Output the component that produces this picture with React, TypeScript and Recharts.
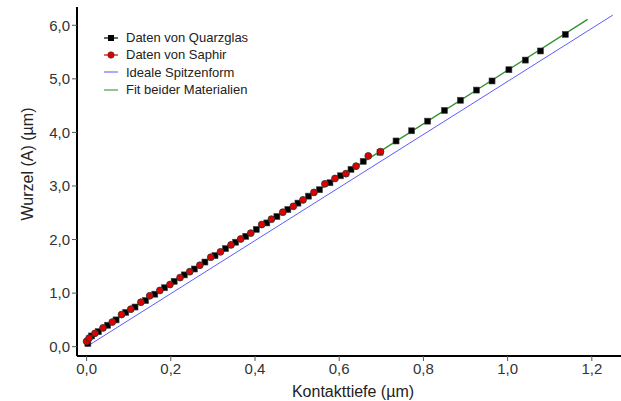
import React from 'react';
import { ComposedChart, Scatter, Line, XAxis, YAxis } from 'recharts';

// Daten von Quarzglas (Kontakttiefe in µm, Wurzel(A) in µm)
const quarzX = [0.003, 0.012, 0.028, 0.05, 0.07, 0.093, 0.115, 0.14, 0.162, 0.185, 0.208, 0.232, 0.256, 0.281, 0.305, 0.33, 0.354, 0.378, 0.403, 0.428, 0.452, 0.478, 0.502, 0.527, 0.553, 0.578, 0.603, 0.628, 0.657, 0.697, 0.735, 0.772, 0.81, 0.85, 0.888, 0.926, 0.963, 1.003, 1.042, 1.078, 1.137];
const quarzY = [0.06, 0.2, 0.28, 0.4, 0.5, 0.64, 0.74, 0.86, 0.98, 1.1, 1.22, 1.34, 1.45, 1.58, 1.7, 1.83, 1.95, 2.06, 2.19, 2.31, 2.43, 2.56, 2.68, 2.81, 2.93, 3.06, 3.19, 3.31, 3.46, 3.63, 3.84, 4.03, 4.21, 4.41, 4.6, 4.79, 4.96, 5.17, 5.35, 5.52, 5.83];

// Daten von Saphir
const saphirX = [0.0, 0.006, 0.02, 0.039, 0.061, 0.083, 0.105, 0.129, 0.15, 0.174, 0.198, 0.222, 0.245, 0.269, 0.295, 0.318, 0.343, 0.366, 0.39, 0.416, 0.439, 0.466, 0.491, 0.514, 0.54, 0.566, 0.59, 0.616, 0.64, 0.669, 0.698];
const saphirY = [0.1, 0.16, 0.25, 0.35, 0.46, 0.6, 0.7, 0.83, 0.95, 1.05, 1.16, 1.29, 1.4, 1.52, 1.67, 1.77, 1.9, 2.01, 2.12, 2.28, 2.38, 2.51, 2.62, 2.74, 2.88, 3.04, 3.14, 3.23, 3.37, 3.56, 3.64];

// Ideale Spitzenform
const idealX = [0, 1.25];
const idealY = [0, 6.19];

// Fit beider Materialien
const fitX = [0, 0.01, 0.03, 0.1, 0.3, 0.7, 1.19];
const fitY = [0.05, 0.17, 0.29, 0.68, 1.68, 3.66, 6.11];

const xTicks = [0, 0.2, 0.4, 0.6, 0.8, 1.0, 1.2];
const yTicks = [0, 1, 2, 3, 4, 5, 6];

const legendNames = ['Daten von Quarzglas', 'Daten von Saphir', 'Ideale Spitzenform', 'Fit beider Materialien'];
const legendColors = ['#000000', '#dd0000', '#6f6fff', '#4a9e4a'];

const toPoints = (xs: number[], ys: number[]) => xs.map((x, i) => ({ x, y: ys[i] }));

const quarzData = toPoints(quarzX, quarzY);
const saphirData = toPoints(saphirX, saphirY);
const idealData = toPoints(idealX, idealY);
const fitData = toPoints(fitX, fitY);

const FONT = 'Arial, "Liberation Sans", sans-serif';
const fmt = (v: number) => v.toFixed(1).replace('.', ',');

const Square = (props: any) => {
  const { cx, cy } = props;
  if (cx == null || cy == null) return null;
  return <rect x={cx - 3} y={cy - 3} width={6} height={6} fill="#000" stroke="#444" strokeWidth={0.6} />;
};

const Dot = (props: any) => {
  const { cx, cy } = props;
  if (cx == null || cy == null) return null;
  return <circle cx={cx} cy={cy} r={3.4} fill="#e00000" stroke="#333" strokeWidth={0.9} />;
};

const LegendBox = () => (
  <div style={{ position: 'absolute', left: 104, top: 29, fontFamily: FONT, fontSize: 13, color: '#222', lineHeight: '17.3px' }}>
    {legendNames.map((name, i) => (
      <div key={name} style={{ display: 'flex', alignItems: 'center' }}>
        <svg width={14} height={12} style={{ marginRight: 8 }}>
          <line x1={0} y1={6} x2={14} y2={6} stroke={legendColors[i]} strokeWidth={1.2} />
          {i === 0 && <rect x={4} y={3} width={6} height={6} fill="#000" />}
          {i === 1 && <circle cx={7} cy={6} r={3.2} fill="#e00000" stroke="#333" strokeWidth={0.6} />}
        </svg>
        <span>{name}</span>
      </div>
    ))}
  </div>
);

export default function App() {
  return (
    <div style={{ position: 'absolute', left: 0, top: 0, width: 621, height: 401, background: '#fff' }}>
      <ComposedChart width={621} height={401} margin={{ top: 7, right: 0, bottom: 0, left: 0 }}>
        <XAxis
          type="number"
          dataKey="x"
          domain={[-0.0228, 1.2693]}
          ticks={xTicks}
          tickFormatter={fmt}
          allowDataOverflow
          height={45}
          axisLine={{ stroke: '#000', strokeWidth: 2 }}
          tickLine={{ stroke: '#555' }}
          tickSize={5}
          tick={{ fill: '#333', fontSize: 15, fontFamily: FONT }}
          label={{
            content: () => (
              <text x={353} y={397} textAnchor="middle" fontSize={16} fontFamily={FONT} fill="#222">
                Kontakttiefe (µm)
              </text>
            ),
          }}
        />
        <YAxis
          type="number"
          dataKey="y"
          domain={[-0.174, 6.341]}
          ticks={yTicks}
          tickFormatter={fmt}
          allowDataOverflow
          width={77}
          axisLine={{ stroke: '#000', strokeWidth: 2 }}
          tickLine={{ stroke: '#555' }}
          tickSize={5}
          tick={{ fill: '#333', fontSize: 15, fontFamily: FONT }}
          label={{
            content: () => (
              <text
                x={27}
                y={164}
                transform="rotate(-90 27 164)"
                textAnchor="middle"
                dominantBaseline="central"
                fontSize={16}
                fontFamily={FONT}
                fill="#222"
              >
                Wurzel (A) (µm)
              </text>
            ),
          }}
        />
        <XAxis xAxisId="top" orientation="top" type="number" dataKey="x" domain={[-0.0228, 1.2693]} height={0} tick={false} tickLine={false} axisLine={{ stroke: '#000', strokeWidth: 2 }} />
        <Line data={idealData} dataKey="y" type="linear" stroke="#5c5cff" strokeWidth={1} dot={false} isAnimationActive={false} />
        <Scatter data={quarzData} dataKey="y" shape={<Square />} isAnimationActive={false} />
        <Scatter data={saphirData} dataKey="y" shape={<Dot />} isAnimationActive={false} />
        <Line data={fitData} dataKey="y" type="linear" stroke="#2f8f2f" strokeWidth={1.3} dot={false} isAnimationActive={false} />
      </ComposedChart>
      <LegendBox />
    </div>
  );
}
